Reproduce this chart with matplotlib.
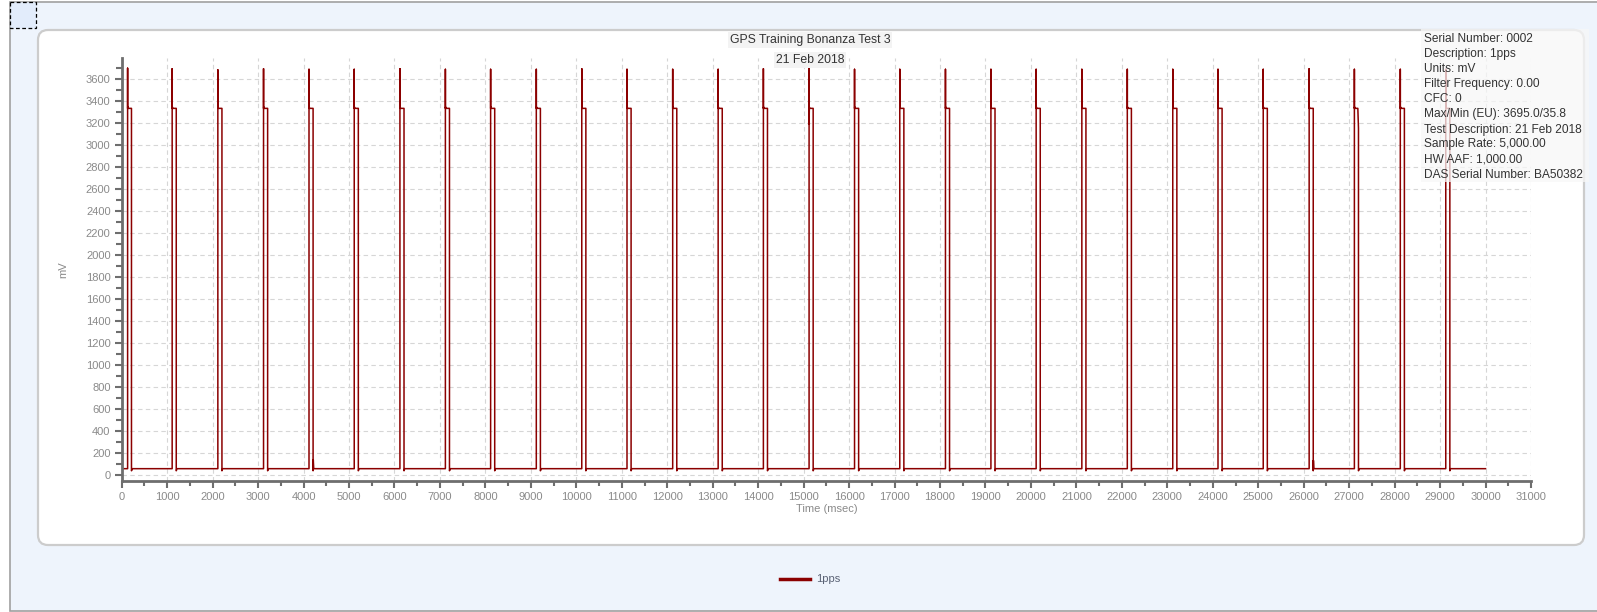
import numpy as np
import matplotlib.pyplot as plt
from matplotlib.patches import FancyBboxPatch, Rectangle
from matplotlib.lines import Line2D
from matplotlib.ticker import MultipleLocator

plt.rcParams['font.family'] = ['Liberation Sans', 'DejaVu Sans']

# 1pps trace (msec / mV)
rise_ms = [130, 1110, 2115, 3120, 4120, 5115, 6120, 7120, 8115, 9120,
           10120, 11115, 12120, 13120, 14115, 15120, 16120, 17115, 18120, 19120,
           20115, 21120, 22120, 23120, 24115, 25110, 26120, 27115, 28125, 29125]
fall_ms = [215, 1200, 2205, 3210, 4210, 5205, 6210, 7210, 8205, 9210,
           10210, 11205, 12210, 13210, 14205, 15210, 16210, 17205, 18210, 19210,
           20205, 21210, 22210, 23210, 24205, 25200, 26210, 27205, 28215, 29215]
spike_mv = [3695, 3690, 3680, 3690, 3685, 3685, 3690, 3685, 3685, 3685,
            3690, 3685, 3685, 3685, 3690, 3690, 3685, 3685, 3685, 3685,
            3685, 3685, 3685, 3685, 3685, 3685, 3690, 3685, 3685, 3685]
after_spike_mv = [3330] * 15 + [3185] + [3330] * 14
plateau_mv = [3330] * 30
fall_top_mv = [3330] * 27 + [3150, 3330, 3330]
fall_low_mv = [36] * 30
post_fall_mv = [40, 40, 40, 40, 135, 40, 40, 40, 40, 40,
                40, 40, 40, 40, 40, 40, 40, 40, 40, 40,
                40, 40, 40, 40, 40, 40, 130, 40, 40, 40]
base_mv = 55
end_ms = 30000

info_lines = ["Serial Number: 0002", "Description: 1pps", "Units: mV",
              "Filter Frequency: 0.00", "CFC: 0", "Max/Min (EU): 3695.0/35.8",
              "Test Description: 21 Feb 2018", "Sample Rate: 5,000.00",
              "HW AAF: 1,000.00", "DAS Serial Number: BA50382"]

# build the step trace vertices
t = [0]
v = [base_mv]
for i in range(len(rise_ms)):
    r, f = rise_ms[i], fall_ms[i]
    t += [r, r, r, r + 6, r + 14, f - 14, f, f, f + 4, f + 14]
    v += [base_mv, spike_mv[i], after_spike_mv[i], plateau_mv[i] + 12,
          plateau_mv[i], plateau_mv[i], fall_top_mv[i], fall_low_mv[i],
          post_fall_mv[i], base_mv]
t.append(end_ms)
v.append(base_mv)

W, H = 1597, 612
fig = plt.figure(figsize=(W / 100, H / 100), dpi=100)
fig.patch.set_facecolor('white')

# background layer in pixel coords
bg = fig.add_axes([0, 0, 1, 1], zorder=0)
bg.set_xlim(0, W)
bg.set_ylim(H, 0)
bg.axis('off')
bg.add_patch(Rectangle((10, 2), W + 20, 609, facecolor='#eef4fc',
                       edgecolor='#a0a0a0', lw=1.2))
bg.add_patch(Rectangle((10, 2), 25.5, 25.5, facecolor='#e2ecfb',
                       edgecolor='black', lw=0.9, ls=(0, (3, 2))))
bg.add_patch(FancyBboxPatch((38, 30), 1546, 515,
                            boxstyle='round,pad=0,rounding_size=10',
                            facecolor='white', edgecolor='#cccccc', lw=1.6))

ax = fig.add_axes([121.7 / W, (H - 481) / H, (1531 - 121.7) / W, (481 - 58.3) / H],
                  zorder=2)
ax.patch.set_alpha(0)
ax.plot(t, v, color='#8b0000', lw=1.1)
ax.set_xlim(0, 31000)
ax.set_ylim(-57, 3785)
ax.xaxis.set_major_locator(MultipleLocator(1000))
ax.xaxis.set_minor_locator(MultipleLocator(500))
ax.yaxis.set_major_locator(MultipleLocator(200))
ax.yaxis.set_minor_locator(MultipleLocator(100))
for s in ['top', 'right']:
    ax.spines[s].set_visible(False)
for s in ['left', 'bottom']:
    ax.spines[s].set_color('#6e6e6e')
    ax.spines[s].set_linewidth(2)
ax.tick_params(which='major', length=5, width=1.5, color='#6e6e6e',
               labelcolor='#8a8a8a', labelsize=8, pad=3)
ax.tick_params(which='minor', length=4, width=1.5, color='#6e6e6e')
ax.tick_params(axis='x', which='minor', length=3.5)
ax.grid(True, which='major', color='#d6d6d6', lw=0.8, ls=(0, (4, 3)))
ax.set_axisbelow(True)
ax.set_xlabel('Time (msec)', fontsize=8, color='#8a8a8a', labelpad=1)
ax.set_ylabel('mV', fontsize=8, color='#8a8a8a', labelpad=13)

# overlay layer: titles, info box, legend
ov = fig.add_axes([0, 0, 1, 1], zorder=5)
ov.set_xlim(0, W)
ov.set_ylim(H, 0)
ov.axis('off')
ov.patch.set_alpha(0)
ov.text(810, 40, 'GPS Training Bonanza Test 3', ha='center', va='center',
        fontsize=8.8, color='#333333',
        bbox=dict(facecolor='#f3f3f3', edgecolor='none', pad=1.5))
ov.text(810, 60, '21 Feb 2018', ha='center', va='center', fontsize=8.8,
        color='#333333', bbox=dict(facecolor='#f3f3f3', edgecolor='none', pad=1.5))
ov.add_patch(Rectangle((1421, 29), 168, 153, facecolor='#f7f7f7',
                       edgecolor='none', alpha=0.75))
for i, line in enumerate(info_lines):
    ov.text(1424, 39.5 + i * 15.0, line, ha='left', va='center',
            fontsize=8.6, color='#333333')
ov.add_line(Line2D([780, 810], [579, 579], color='#8b0000', lw=2.5))
ov.text(816, 579, '1pps', ha='left', va='center', fontsize=8, color='#5a6275')

fig.savefig('out.png', dpi=100)
